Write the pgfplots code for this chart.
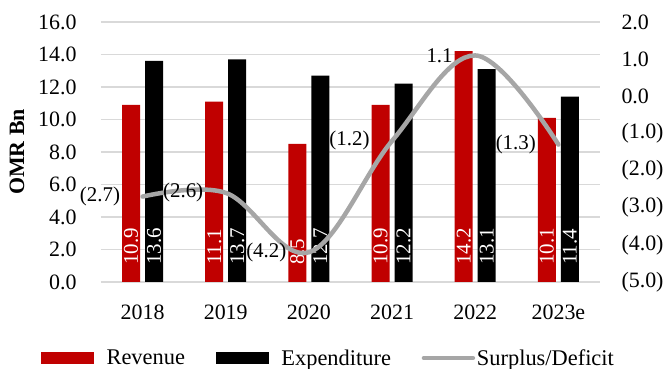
\documentclass[border=0pt]{standalone}
\usepackage{pgfplots}
\pgfplotsset{compat=1.18}
\usepackage{fontspec}
\setmainfont{Liberation Serif}
\definecolor{rev}{HTML}{C00000}
\definecolor{sd}{HTML}{A6A6A6}
\definecolor{grd}{HTML}{D9D9D9}
\begin{document}
\begin{tikzpicture}
\useasboundingbox (-101bp,-87bp) rectangle (564bp,282bp);
\pgfplotsset{
 base/.style={scale only axis, width=499bp, height=260bp, xmin=-0.5, xmax=5.5,
   font=\fontsize{22}{26}\selectfont, axis line style={draw=none}, major tick length=0pt,
   xtick={0,...,5}, /pgf/number format/assume math mode=true},
}
\begin{axis}[base, ybar=5bp, bar width=18bp, ymin=0, ymax=16, ytick={0,2,...,16},
  yticklabels={0.0,2.0,4.0,6.0,8.0,10.0,12.0,14.0,16.0},
  ymajorgrids, grid style={grd, line width=1.3bp},
  xticklabels={2018,2019,2020,2021,2022,2023e},
  yticklabel style={xshift=-21bp}, xticklabel style={yshift=-19bp},
  ylabel={\textbf{OMR Bn}}, ylabel style={at={(axis description cs:0,0.5)}, anchor=center, yshift=84bp},
  nodes near coords, visualization depends on={y \as \rawy},
  /pgf/number format/.cd, fixed, fixed zerofill, precision=1, assume math mode=true, /pgfplots/.cd,
  every node near coord/.append style={shift={(axis direction cs:0,-\rawy)}, yshift=17bp, rotate=90, anchor=west, inner sep=0pt, text=white, font=\fontsize{21}{25}\selectfont}]
\addplot[fill=rev, draw=none] coordinates {(0,10.9) (1,11.1) (2,8.5) (3,10.9) (4,14.2) (5,10.1)};
\addplot[fill=black, draw=none] coordinates {(0,13.6) (1,13.7) (2,12.7) (3,12.2) (4,13.1) (5,11.4)};
\end{axis}
\begin{axis}[base, ymin=-5, ymax=2, axis y line*=right, xtick=\empty,
  ytick={-5,...,2}, yticklabels={(5.0),(4.0),(3.0),(2.0),(1.0),0.0,1.0,2.0},
  yticklabel style={xshift=18bp},
  legend columns=3,
  legend style={at={(axis description cs:0,0)}, anchor=west, xshift=-60bp, yshift=-76bp,
    draw=none, fill=none, inner sep=0pt, font=\fontsize{22.5}{26}\selectfont,
    /tikz/every odd column/.append style={column sep=11bp},
    /tikz/every even column/.append style={column sep=29bp}}]
\addlegendimage{legend image code/.code={\fill[rev] (0bp,-5.5bp) rectangle (52bp,5.5bp);}}
\addlegendentry{Revenue}
\addlegendimage{legend image code/.code={\fill[black] (0bp,-5.5bp) rectangle (52bp,5.5bp);}}
\addlegendentry{Expenditure}
\addplot[sd, line width=4.5bp, line cap=round, smooth, tension=0.6,
  legend image code/.code={\path[draw=none, fill=none] (0bp,-5.5bp) rectangle (42bp,5.5bp); \draw[overlay, sd, line width=4.5bp, line cap=round] (2bp,0bp) -- (51bp,0bp);},
  nodes near coords, point meta=explicit symbolic,
  every node near coord/.append style={anchor=east, xshift=-17bp, text=black, font=\fontsize{21}{25}\selectfont}]
  coordinates {(0,-2.7) [(2.7)] (1,-2.6) [(2.6)] (2,-4.2) [(4.2)] (3,-1.2) [(1.2)] (4,1.1) [1.1] (5,-1.3) [(1.3)]};
\addlegendentry{Surplus/Deficit}
\end{axis}
\end{tikzpicture}
\end{document}
